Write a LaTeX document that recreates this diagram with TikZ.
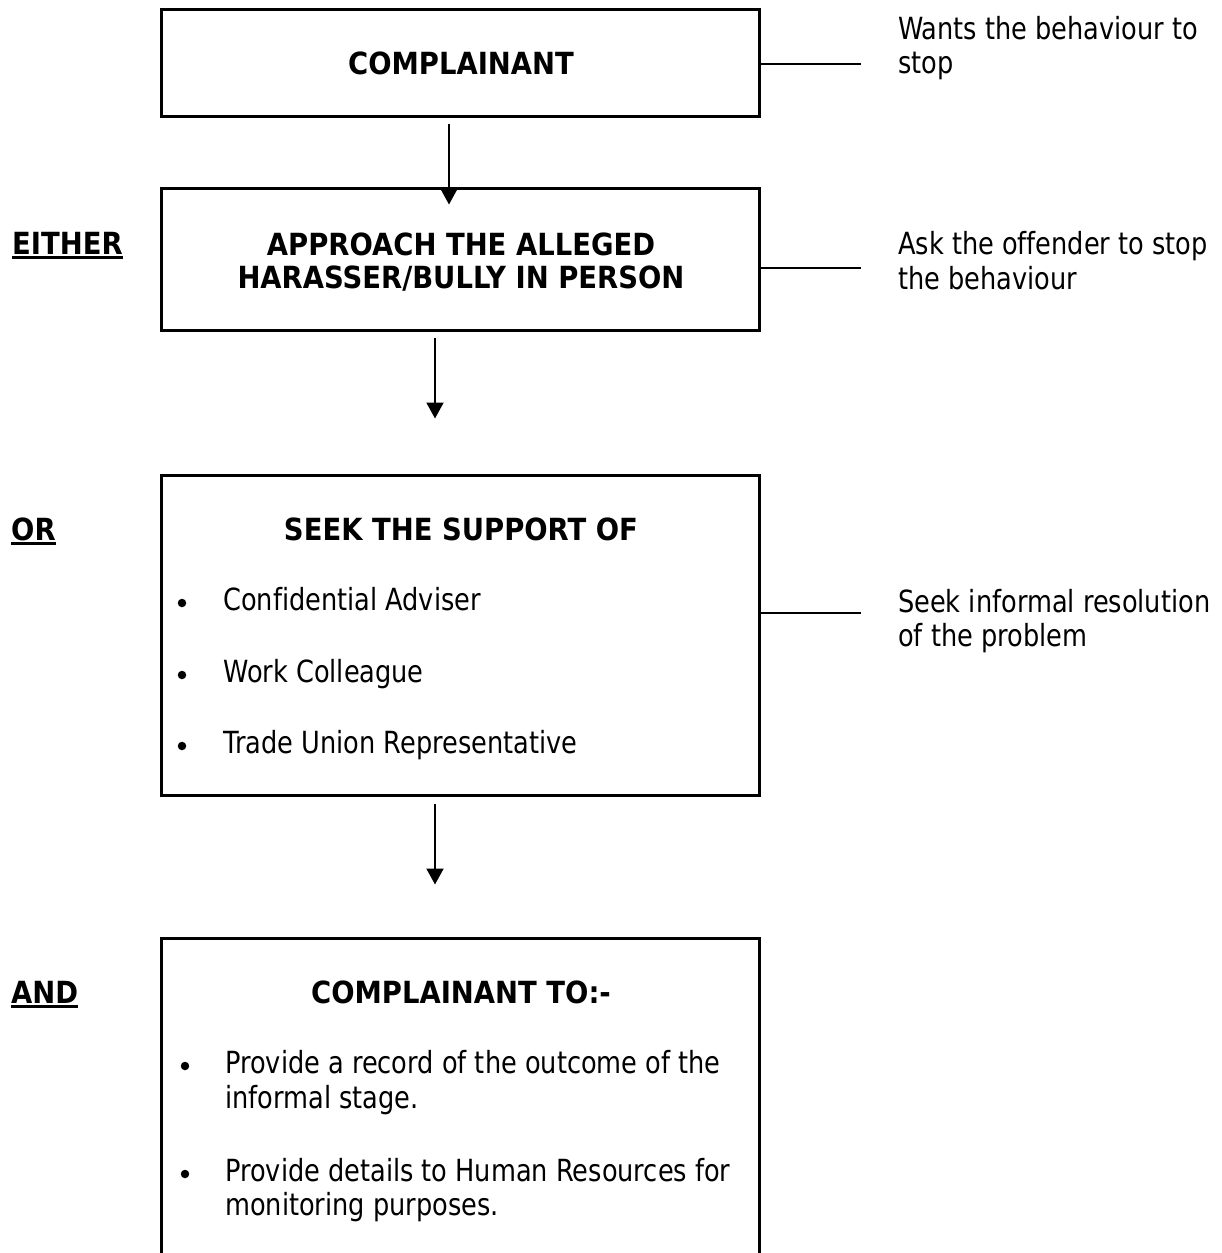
\documentclass[tikz,border=0pt]{standalone}
\usepackage{fontspec}
\setmainfont{DejaVu Sans}[FakeStretch=0.84,Ligatures=NoCommon,BoldFeatures={FakeStretch=0.9}]
\usetikzlibrary{arrows.meta,calc}
\begin{document}
\begin{tikzpicture}[x=1pt,y=-1pt,
  box/.style={draw,line width=3pt,inner sep=0pt,minimum width=598pt},
  txt/.style={inner sep=0pt,font=\fontsize{30.5}{35}\selectfont},
  ttl/.style={txt,anchor=base,font=\fontsize{30.5}{35}\selectfont\bfseries},
  lbl/.style={txt,anchor=base west,font=\fontsize{30.5}{35}\selectfont\bfseries},
  rt/.style={txt,anchor=base west},
  dot/.style={circle,fill,inner sep=0pt,minimum size=8.5pt},
  arr/.style={line width=2pt,-{Triangle[length=16pt,width=17pt]}},
  side/.style={line width=2pt},
  uline/.style={line width=2.2pt}]
\useasboundingbox[fill=white] (0,0) rectangle (1221,1253);

% boxes
\node[box,minimum height=107pt] (b1) at (460,62.5) {};
\node[box,minimum height=142pt] (b2) at (460,259) {};
\node[box,minimum height=320pt] (b3) at (460,635) {};
\node[box,minimum height=340pt] (b4) at (460,1108) {};

% box titles
\node[ttl] (t1) at (461,74) {COMPLAINANT};
\node[ttl] (t2a) at (461,255) {APPROACH THE ALLEGED};
\node[ttl] (t2b) at (461,288) {HARASSER/BULLY IN PERSON};
\node[ttl] (t3) at (461,540) {SEEK THE SUPPORT OF};
\node[ttl] (t4) at (461,1003) {COMPLAINANT TO:-};

% left labels
\node[lbl] (either) at (12,254) {EITHER};
\node[lbl] (or) at (11,540) {OR};
\node[lbl] (and) at (11,1003) {AND};
\foreach \n in {either,or,and}
  \draw[uline] ([yshift=-3.5pt]\n.base west) -- ([yshift=-3.5pt]\n.base east);

% box 3 bullets
\node[dot] (d31) at (182,603) {};
\node[rt] (i31) at (223,610) {Confidential Adviser};
\node[dot] (d32) at (182,675) {};
\node[rt] (i32) at (223,682) {Work Colleague};
\node[dot] (d33) at (182,746) {};
\node[rt] (i33) at (223,753) {Trade Union Representative};

% box 4 bullets
\node[dot] (d41) at (185,1066) {};
\node[rt] (i41a) at (225,1073) {Provide a record of the outcome of the};
\node[rt] (i41b) at (225,1108) {informal stage.};
\node[dot] (d42) at (185,1174) {};
\node[rt] (i42a) at (225,1181) {Provide details to Human Resources for};
\node[rt] (i42b) at (225,1215) {monitoring purposes.};

% right-hand notes
\node[rt] (r1a) at (898,39) {Wants the behaviour to};
\node[rt] (r1b) at (898,73) {stop};
\node[rt] (r2a) at (898,254) {Ask the offender to stop};
\node[rt] (r2b) at (898,289) {the behaviour};
\node[rt] (r3a) at (898,612) {Seek informal resolution};
\node[rt] (r3b) at (898,646) {of the problem};

% side connectors
\draw[side] ($(b1.east)+(0,1.5)$) -- ++(100,0);
\draw[side] ($(b2.east)+(0,9)$) -- ++(100,0);
\draw[side] ($(b3.east)+(0,-22)$) -- ++(100,0);

% arrows
\draw[arr] ($(b1.south)+(-11,6)$) -- ($(b2.north)+(-11,18)$);
\draw[arr] ($(b2.south)+(-25,6)$) -- ($(b3.north)+(-25,-55)$);
\draw[arr] ($(b3.south)+(-25,7)$) -- ($(b4.north)+(-25,-52)$);
\end{tikzpicture}
\end{document}
